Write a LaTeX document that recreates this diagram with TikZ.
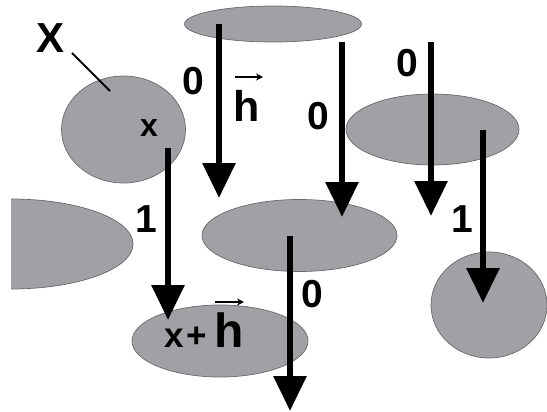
\documentclass[tikz,border=0pt]{standalone}
\usepackage{fontspec}
\setmainfont{Liberation Sans}
\usetikzlibrary{shapes.geometric,arrows.meta}
\definecolor{blob}{RGB}{161,161,165}
\definecolor{blobline}{RGB}{105,105,108}
\tikzset{
  blobshape/.style={ellipse, draw=blobline, line width=0.7pt, fill=blob, inner sep=0pt},
  bigarrow/.style={line width=6pt, -{Triangle[width=32pt,length=35pt]}},
  lab/.style={anchor=base, inner sep=0pt, font=\bfseries\fontsize{39}{42}\selectfont},
  vecarrow/.style={line width=1.6pt, -{Stealth[width=7pt,length=7pt]}}
}
\begin{document}
\begin{tikzpicture}[x=1pt,y=-1pt]
\useasboundingbox (0,0) rectangle (547,412);
% blobs
\node[blobshape, minimum width=177pt, minimum height=36pt] (top) at (273,24) {};
\node[blobshape, minimum width=124pt, minimum height=107pt] (X) at (123.5,129.5) {};
\node[blobshape, minimum width=173pt, minimum height=71pt] (rtop) at (432.5,129.5) {};
\begin{scope}
  \clip (11,0) rectangle (547,412);
  \node[blobshape, minimum width=244pt, minimum height=90pt] (left) at (11,244) {};
\end{scope}
\node[blobshape, minimum width=195pt, minimum height=72pt] (mid) at (299.5,235.5) {};
\node[blobshape, minimum width=176pt, minimum height=72pt] (xh) at (220,341) {};
\node[blobshape, minimum width=116pt, minimum height=106pt] (rbot) at (489,305) {};
% arrow ends
\coordinate (a1s) at (219,24);  \coordinate (a1e) at (219,198);
\coordinate (a2s) at (342,42);  \coordinate (a2e) at (342,217);
\coordinate (a3s) at (431,42);  \coordinate (a3e) at (431,216);
\coordinate (a4s) at (483,130); \coordinate (a4e) at (483,303);
\coordinate (a5s) at (168,148); \coordinate (a5e) at (168,320);
\coordinate (a6s) at (290,236); \coordinate (a6e) at (290,411);
\draw[bigarrow] (a1s) -- (a1e);
\draw[bigarrow] (a2s) -- (a2e);
\draw[bigarrow] (a3s) -- (a3e);
\draw[bigarrow] (a4s) -- (a4e);
\draw[bigarrow] (a5s) -- (a5e);
\draw[bigarrow] (a6s) -- (a6e);
% labels
\node[lab, font=\bfseries\fontsize{42}{44}\selectfont] (Xl) at (51,53) {X};
\coordinate (Xp) at (110,91);
\draw[line width=1.8pt] (72,53) -- (Xp);
\node[lab] (z1) at (193,95) {0};
\node[lab, font=\bfseries\fontsize{43}{46}\selectfont] (h1) at (247,122) {h};
\draw[vecarrow] (235,77) -- (263,77);
\node[lab, font=\bfseries\fontsize{32}{34}\selectfont] (xl) at (149,137) {x};
\node[lab] (z2) at (318,129) {0};
\node[lab] (z3) at (407,77) {0};
\node[lab] (o1) at (146,232) {1};
\node[lab] (o2) at (462,232) {1};
\node[lab] (z4) at (312,307) {0};
\node[lab, font=\bfseries\fontsize{35}{36}\selectfont] (x2) at (174,347) {x};
\node[lab, font=\bfseries\fontsize{35}{36}\selectfont] (plus) at (197,347) {+};
\node[lab, font=\bfseries\fontsize{48}{50}\selectfont] (h2) at (229,347) {h};
\draw[vecarrow] (215,302) -- (244,302);
\end{tikzpicture}
\end{document}
